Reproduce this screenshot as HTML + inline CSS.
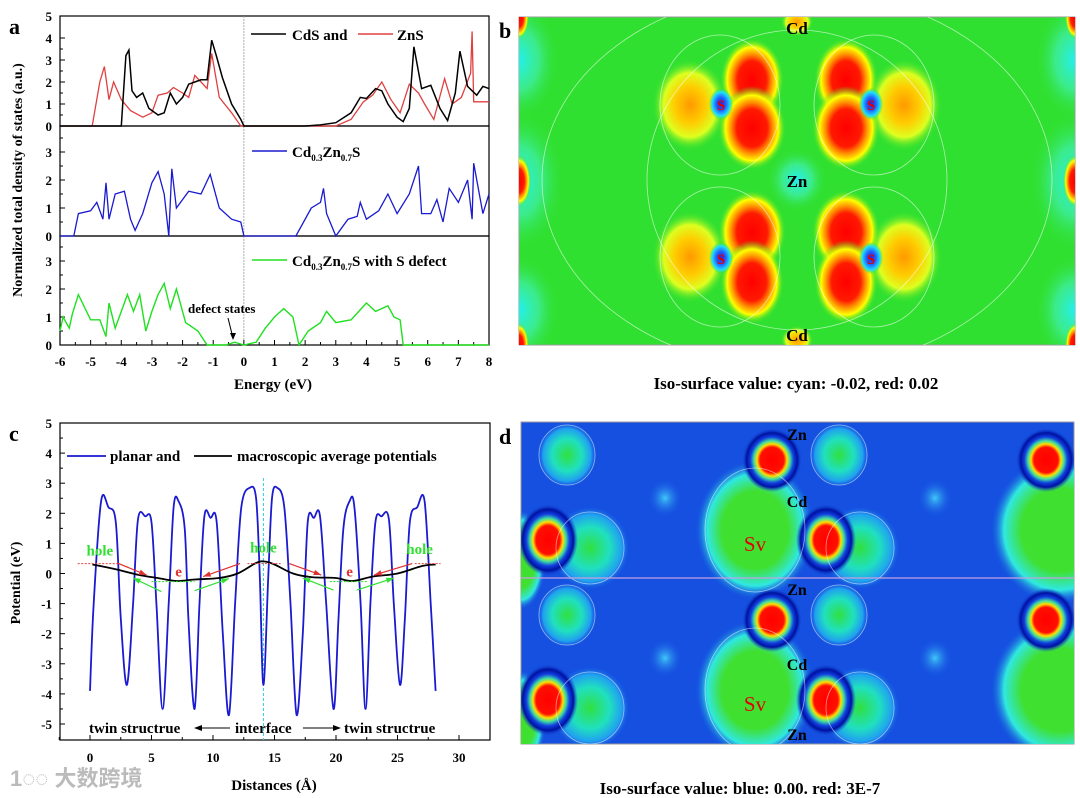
<!DOCTYPE html>
<html><head><meta charset="utf-8"><style>
html,body{margin:0;padding:0;background:#fff;}
svg{display:block;font-family:"Liberation Serif",serif;font-weight:bold;}
</style></head><body>
<svg id="fig" width="1080" height="798" viewBox="0 0 1080 798" xmlns="http://www.w3.org/2000/svg">
<defs>
<radialGradient id="gRed"><stop offset="0" stop-color="#ff0000"/><stop offset="0.45" stop-color="#ff1a00"/><stop offset="0.6" stop-color="#ff8800"/><stop offset="0.78" stop-color="#ffff00"/><stop offset="1" stop-color="#30e030" stop-opacity="0"/></radialGradient>
<radialGradient id="gOr"><stop offset="0" stop-color="#ff9900"/><stop offset="0.4" stop-color="#ffcc00"/><stop offset="0.7" stop-color="#ddff20"/><stop offset="1" stop-color="#30e030" stop-opacity="0"/></radialGradient>
<radialGradient id="gCy"><stop offset="0" stop-color="#20f0f0"/><stop offset="0.5" stop-color="#40f0b0" stop-opacity="0.7"/><stop offset="1" stop-color="#30e030" stop-opacity="0"/></radialGradient>
<radialGradient id="gS"><stop offset="0" stop-color="#3020d0"/><stop offset="0.4" stop-color="#2060ff"/><stop offset="0.75" stop-color="#20e0ff"/><stop offset="1" stop-color="#30e030" stop-opacity="0"/></radialGradient>
<radialGradient id="dRed"><stop offset="0" stop-color="#ff0000"/><stop offset="0.4" stop-color="#ff1000"/><stop offset="0.5" stop-color="#ffdd00"/><stop offset="0.6" stop-color="#40e0a0"/><stop offset="0.72" stop-color="#1040e0"/><stop offset="0.85" stop-color="#0010a0"/><stop offset="1" stop-color="#1550e0" stop-opacity="0"/></radialGradient>
<radialGradient id="dGr"><stop offset="0" stop-color="#30e040"/><stop offset="0.5" stop-color="#20e0c0"/><stop offset="0.8" stop-color="#20a0f0"/><stop offset="1" stop-color="#1550e0" stop-opacity="0"/></radialGradient>
<radialGradient id="dBig"><stop offset="0" stop-color="#40e030"/><stop offset="0.55" stop-color="#40e030"/><stop offset="0.8" stop-color="#30e8e0"/><stop offset="1" stop-color="#1550e0" stop-opacity="0"/></radialGradient>
<radialGradient id="dCy"><stop offset="0" stop-color="#40c8f8"/><stop offset="1" stop-color="#1550e0" stop-opacity="0"/></radialGradient>
</defs>

<g>
<rect x="519" y="17" width="556" height="328" fill="#30e030" stroke="#999" stroke-width="1"/>
<svg x="519" y="17" width="556" height="328" viewBox="519 17 556 328">
<ellipse cx="519" cy="60" rx="40" ry="60" fill="url(#gCy)"/>
<ellipse cx="519" cy="181" rx="45" ry="70" fill="url(#gCy)"/>
<ellipse cx="519" cy="310" rx="40" ry="55" fill="url(#gCy)"/>
<ellipse cx="1075" cy="60" rx="40" ry="60" fill="url(#gCy)"/>
<ellipse cx="1075" cy="181" rx="45" ry="70" fill="url(#gCy)"/>
<ellipse cx="1075" cy="310" rx="40" ry="55" fill="url(#gCy)"/>
<ellipse cx="797" cy="180" rx="30" ry="32" fill="url(#gCy)"/>
<ellipse cx="519" cy="181" rx="12" ry="26" fill="url(#gRed)"/>
<ellipse cx="1075" cy="181" rx="12" ry="26" fill="url(#gRed)"/>
<ellipse cx="519" cy="17" rx="10" ry="22" fill="url(#gRed)"/>
<ellipse cx="1075" cy="17" rx="10" ry="22" fill="url(#gRed)"/>
<ellipse cx="519" cy="345" rx="10" ry="22" fill="url(#gRed)"/>
<ellipse cx="1075" cy="345" rx="10" ry="22" fill="url(#gRed)"/>
<ellipse cx="797" cy="22" rx="16" ry="14" fill="url(#gOr)"/>
<ellipse cx="797" cy="340" rx="16" ry="14" fill="url(#gOr)"/>
<g>
<ellipse cx="690" cy="105" rx="38" ry="46" fill="url(#gOr)"/>
<ellipse cx="904" cy="105" rx="38" ry="46" fill="url(#gOr)"/>
<ellipse cx="690" cy="257" rx="38" ry="46" fill="url(#gOr)"/>
<ellipse cx="904" cy="257" rx="38" ry="46" fill="url(#gOr)"/>
<ellipse cx="752" cy="80" rx="32" ry="42" fill="url(#gRed)"/>
<ellipse cx="752" cy="128" rx="34" ry="42" fill="url(#gRed)"/>
<ellipse cx="846" cy="80" rx="32" ry="42" fill="url(#gRed)"/>
<ellipse cx="846" cy="128" rx="34" ry="42" fill="url(#gRed)"/>
<ellipse cx="752" cy="232" rx="34" ry="42" fill="url(#gRed)"/>
<ellipse cx="752" cy="282" rx="32" ry="42" fill="url(#gRed)"/>
<ellipse cx="846" cy="232" rx="34" ry="42" fill="url(#gRed)"/>
<ellipse cx="846" cy="282" rx="32" ry="42" fill="url(#gRed)"/>
<ellipse cx="721" cy="104" rx="12" ry="16" fill="url(#gS)"/>
<ellipse cx="871" cy="104" rx="12" ry="16" fill="url(#gS)"/>
<ellipse cx="721" cy="258" rx="12" ry="16" fill="url(#gS)"/>
<ellipse cx="871" cy="258" rx="12" ry="16" fill="url(#gS)"/>
</g>
<g fill="none" stroke="#ffffff" stroke-opacity="0.6" stroke-width="0.8">
<ellipse cx="797" cy="180" rx="150" ry="150"/>
<ellipse cx="720" cy="105" rx="60" ry="70"/>
<ellipse cx="874" cy="105" rx="60" ry="70"/>
<ellipse cx="720" cy="257" rx="60" ry="70"/>
<ellipse cx="874" cy="257" rx="60" ry="70"/>
<ellipse cx="797" cy="180" rx="255" ry="190"/>
</g>
</svg>
<text x="797" y="34" font-size="17" text-anchor="middle" fill="#000">Cd</text>
<text x="797" y="187" font-size="17" text-anchor="middle" fill="#000">Zn</text>
<text x="797" y="341" font-size="17" text-anchor="middle" fill="#000">Cd</text>
<text x="721" y="110" font-size="15" text-anchor="middle" fill="#e00000">S</text>
<text x="871" y="110" font-size="15" text-anchor="middle" fill="#e00000">S</text>
<text x="721" y="264" font-size="15" text-anchor="middle" fill="#e00000">S</text>
<text x="871" y="264" font-size="15" text-anchor="middle" fill="#e00000">S</text>
<text x="499" y="38" font-size="22" fill="#000">b</text>
<text x="796" y="389" font-size="17" text-anchor="middle" fill="#000">Iso-surface value: cyan: -0.02, red: 0.02</text>
</g>

<g>
<rect x="521" y="422" width="553" height="322" fill="#1550e0" stroke="#999" stroke-width="1"/>
<svg x="521" y="422" width="553" height="322" viewBox="521 422 553 322">
<ellipse cx="755" cy="530" rx="60" ry="70" fill="url(#dBig)"/>
<ellipse cx="755" cy="690" rx="60" ry="70" fill="url(#dBig)"/>
<ellipse cx="1060" cy="530" rx="70" ry="75" fill="url(#dBig)"/>
<ellipse cx="1060" cy="690" rx="70" ry="75" fill="url(#dBig)"/>
<ellipse cx="521" cy="560" rx="25" ry="50" fill="url(#dBig)"/>
<ellipse cx="521" cy="720" rx="25" ry="50" fill="url(#dBig)"/>
<ellipse cx="590" cy="548" rx="40" ry="42" fill="url(#dGr)"/>
<ellipse cx="860" cy="548" rx="40" ry="42" fill="url(#dGr)"/>
<ellipse cx="590" cy="708" rx="40" ry="42" fill="url(#dGr)"/>
<ellipse cx="860" cy="708" rx="40" ry="42" fill="url(#dGr)"/>
<ellipse cx="567" cy="455" rx="30" ry="33" fill="url(#dGr)"/>
<ellipse cx="839" cy="455" rx="30" ry="33" fill="url(#dGr)"/>
<ellipse cx="567" cy="615" rx="30" ry="33" fill="url(#dGr)"/>
<ellipse cx="839" cy="615" rx="30" ry="33" fill="url(#dGr)"/>
<ellipse cx="665" cy="498" rx="18" ry="20" fill="url(#dCy)"/>
<ellipse cx="665" cy="658" rx="18" ry="20" fill="url(#dCy)"/>
<ellipse cx="935" cy="498" rx="18" ry="20" fill="url(#dCy)"/>
<ellipse cx="935" cy="658" rx="18" ry="20" fill="url(#dCy)"/>
<ellipse cx="772" cy="460" rx="30" ry="32" fill="url(#dRed)"/>
<ellipse cx="1046" cy="460" rx="30" ry="32" fill="url(#dRed)"/>
<ellipse cx="548" cy="540" rx="30" ry="36" fill="url(#dRed)"/>
<ellipse cx="826" cy="540" rx="30" ry="36" fill="url(#dRed)"/>
<ellipse cx="772" cy="620" rx="30" ry="32" fill="url(#dRed)"/>
<ellipse cx="1046" cy="620" rx="30" ry="32" fill="url(#dRed)"/>
<ellipse cx="548" cy="700" rx="30" ry="36" fill="url(#dRed)"/>
<ellipse cx="826" cy="700" rx="30" ry="36" fill="url(#dRed)"/>
<g fill="none" stroke="#ffffff" stroke-opacity="0.55" stroke-width="0.8">
<ellipse cx="567" cy="455" rx="28" ry="30"/><ellipse cx="839" cy="455" rx="28" ry="30"/>
<ellipse cx="567" cy="615" rx="28" ry="30"/><ellipse cx="839" cy="615" rx="28" ry="30"/>
<ellipse cx="755" cy="530" rx="50" ry="62"/><ellipse cx="755" cy="690" rx="50" ry="62"/>
<ellipse cx="590" cy="548" rx="34" ry="36"/><ellipse cx="860" cy="548" rx="34" ry="36"/>
<ellipse cx="590" cy="708" rx="34" ry="36"/><ellipse cx="860" cy="708" rx="34" ry="36"/>
</g>
<line x1="521" y1="578" x2="1074" y2="578" stroke="#c8a0e0" stroke-width="1.2"/>
</svg>
<text x="797" y="440" font-size="16" text-anchor="middle" fill="#000">Zn</text>
<text x="797" y="507" font-size="16" text-anchor="middle" fill="#000">Cd</text>
<text x="755" y="551" font-size="21" text-anchor="middle" fill="#e00000" font-weight="normal">Sv</text>
<text x="797" y="595" font-size="16" text-anchor="middle" fill="#000">Zn</text>
<text x="797" y="670" font-size="16" text-anchor="middle" fill="#000">Cd</text>
<text x="755" y="711" font-size="21" text-anchor="middle" fill="#e00000" font-weight="normal">Sv</text>
<text x="797" y="740" font-size="16" text-anchor="middle" fill="#000">Zn</text>
<text x="499" y="444" font-size="22" fill="#000">d</text>
<text x="740" y="794" font-size="17" text-anchor="middle" fill="#000">Iso-surface value: blue: 0.00. red: 3E-7</text>
</g>

<g id="pa"></g>
<g id="pc"></g>
<text x="10" y="786" font-size="22" fill="#bbbbbb" font-family="'Liberation Sans','Noto Sans CJK SC',sans-serif">1◌◌ 大数跨境</text>
</svg>
<script>
const cdsE=[-6,-4.0,-3.85,-3.75,-3.65,-3.5,-3.3,-3.1,-2.8,-2.6,-2.4,-2.2,-2.0,-1.8,-1.6,-1.4,-1.2,-1.05,-0.9,-0.7,-0.4,-0.1,0,2,2.5,3,3.5,3.8,4.0,4.3,4.5,4.7,5.0,5.2,5.4,5.55,5.8,6.1,6.4,6.65,6.9,7.05,7.3,7.6,7.8,8];
const cdsV=[0,0,3.2,3.45,1.6,1.3,1.5,0.8,0.5,0.6,1.5,1.0,1.3,1.9,2.0,2.1,2.1,3.9,3.2,2.2,1.0,0.3,0,0,0.05,0.15,0.6,1.3,1.25,1.7,1.6,1.0,0.4,0.2,0.8,3.6,1.7,1.85,0.8,0.25,1.5,3.4,1.8,1.4,1.8,1.7];
const znsE=[-6,-4.95,-4.7,-4.55,-4.4,-4.25,-4.0,-3.7,-3.3,-3.0,-2.8,-2.5,-2.3,-2.0,-1.8,-1.6,-1.4,-1.2,-1.05,-0.8,-0.4,-0.1,0,3.0,3.5,3.9,4.2,4.5,4.8,5.1,5.4,5.7,5.9,6.2,6.55,6.8,7.1,7.4,7.45,7.5,8];
const znsV=[0,0,2.0,2.7,1.2,2.0,1.2,0.7,0.4,0.6,1.4,1.5,1.75,1.5,1.3,2.3,2.0,1.7,3.3,1.3,0.6,0,0,0,0.3,1.1,1.4,2.0,1.2,0.6,1.9,1.5,1.0,0.3,2.15,1.0,1.3,2.4,4.3,1.1,1.1];
const mixE=[-6,-5.55,-5.4,-5.0,-4.8,-4.6,-4.5,-4.4,-4.2,-3.9,-3.7,-3.55,-3.3,-3.0,-2.8,-2.6,-2.45,-2.35,-2.2,-1.8,-1.4,-1.1,-0.8,-0.4,-0.1,0,1.7,2.2,2.5,2.6,2.7,3.0,3.4,3.7,3.8,4.0,4.4,4.7,5.0,5.4,5.7,5.8,6.1,6.3,6.5,6.7,7.0,7.3,7.45,7.5,7.8,8.0];
const mixV=[0,0,0.8,0.9,1.2,0.6,1.9,0.6,1.5,1.6,0.6,0.2,0.8,1.9,2.3,1.5,0,2.4,1.0,1.6,1.5,2.2,1.0,0.6,0.5,0,0,1.0,1.2,1.7,0.8,0,0.6,0.7,1.2,0.6,0.9,1.5,0.8,1.5,2.5,0.8,0.8,1.3,0.5,1.7,1.2,2.0,0.6,2.6,0.8,1.5];
const defE=[-6,-5.9,-5.7,-5.6,-5.4,-5.0,-4.7,-4.5,-4.4,-4.2,-3.8,-3.6,-3.4,-3.2,-3.0,-2.8,-2.6,-2.4,-2.2,-1.9,-1.5,-1.2,-0.6,-0.3,0,0.4,0.7,1.0,1.3,1.6,1.8,2.1,2.5,2.7,3.0,3.5,4.0,4.3,4.7,4.9,5.1,5.2,8];
const defV=[0.5,1.0,0.6,1.1,1.8,0.9,0.9,0.3,1.5,0.6,1.8,1.2,1.8,0.5,1.2,1.8,2.2,1.3,2.0,0.8,0.5,0,0,0.1,0,0.1,0.6,1.0,1.3,1.0,0,0.5,0.8,1.2,0.8,0.9,1.5,1.2,1.4,1.0,0.9,0,0];
const xTicksA=[-6,-5,-4,-3,-2,-1,0,1,2,3,4,5,6,7,8];
const potX=[0,0.3,0.9,1.5,2.1,2.5,3.0,3.5,3.9,4.5,5.0,5.4,5.9,6.4,6.8,7.2,7.7,8.0,8.5,8.9,9.3,9.8,10.3,10.8,11.3,11.8,12.3,13.0,13.5,13.8,14.1,14.5,14.8,15.2,15.8,16.3,16.8,17.3,17.7,18.2,18.7,19.2,19.8,20.2,20.6,21.1,21.5,22.0,22.4,22.8,23.2,23.7,24.3,24.7,25.2,25.6,26.0,26.6,27.2,27.7,28.1];
const potV=[-3.9,-1,2.4,2.2,1.7,-1.5,-3.7,-1,1.8,1.9,1.7,-1,-4.5,-1,2.2,2.4,1.5,-1.5,-4.5,-1,1.9,1.85,1.7,-2,-4.7,-1,2.2,2.85,2.5,0,-3.7,0,2.5,2.85,2.2,-1,-4.7,-2,1.7,1.85,1.9,-1,-4.5,-1.5,1.5,2.4,2.2,-1,-4.5,-1,1.7,1.9,1.8,-1,-3.7,-1.5,1.7,2.2,2.4,-1,-3.9];
const macX=[0.2,2,4,5.5,7,8.5,10.5,12,13.5,14.2,15,16.5,18,20,21.3,23,25,27,28.1];
const macV=[0.3,0.15,-0.05,-0.15,-0.25,-0.2,-0.15,0,0.35,0.4,0.3,0,-0.12,-0.15,-0.25,-0.1,0,0.25,0.3];
const xTicksC=[0,5,10,15,20,25,30];
const yTicksC=[5,4,3,2,1,0,-1,-2,-3,-4,-5];

const NS='http://www.w3.org/2000/svg';
function mk(parent,tag,attrs,text){const e=document.createElementNS(NS,tag);for(const k in attrs)e.setAttribute(k,attrs[k]);if(text!==undefined)e.textContent=text;parent.appendChild(e);return e;}
function lineD(xs,ys,fx,fy){return xs.map((x,i)=>(i?'L':'M')+fx(x).toFixed(1)+','+fy(ys[i]).toFixed(1)).join('');}
function smoothD(xs,ys,fx,fy){const p=xs.map((x,i)=>[fx(x),fy(ys[i])]);let d='M'+p[0][0]+','+p[0][1];for(let i=0;i<p.length-1;i++){const p0=p[i-1]||p[i],p1=p[i],p2=p[i+1],p3=p[i+2]||p2;d+='C'+(p1[0]+(p2[0]-p0[0])/6).toFixed(1)+','+(p1[1]+(p2[1]-p0[1])/6).toFixed(1)+' '+(p2[0]-(p3[0]-p1[0])/6).toFixed(1)+','+(p2[1]-(p3[1]-p1[1])/6).toFixed(1)+' '+p2[0].toFixed(1)+','+p2[1].toFixed(1);}return d;}

const A=document.getElementById('pa');
const ax=e=>60+(e+6)*(429/14);
const panels=[{top:16,bot:126,s:22,ticks:[0,1,2,3,4,5]},{top:126,bot:236,s:28,ticks:[0,1,2,3]},{top:236,bot:345,s:28,ticks:[0,1,2,3]}];
panels.forEach((p,pi)=>{
  const fy=v=>p.bot-v*p.s;
  const fr=mk(A,'rect',{x:60,y:p.top,width:429,height:p.bot-p.top,fill:'none',stroke:'#000','stroke-width':1.2});
  
  
  p.ticks.forEach(t=>{
    const y=fy(t); if(y<p.top-0.5)return;
    mk(A,'line',{x1:60,y1:y,x2:65,y2:y,stroke:'#000'});
    const tl=mk(A,'text',{x:52,y:y+5,'font-size':13,'text-anchor':'end'},String(t));
    
    
    if(t<3.9 && fy(t+0.5)>p.top)mk(A,'line',{x1:60,y1:fy(t+0.5),x2:63,y2:fy(t+0.5),stroke:'#000'});
  });
  mk(A,'line',{x1:ax(0),y1:p.top,x2:ax(0),y2:p.bot,stroke:'#999','stroke-width':0.8,'stroke-dasharray':'2,1'});
});
xTicksA.forEach(t=>{
  mk(A,'line',{x1:ax(t),y1:345,x2:ax(t),y2:340,stroke:'#000'});
  if(t<8)mk(A,'line',{x1:ax(t+0.5),y1:345,x2:ax(t+0.5),y2:342,stroke:'#000'});
  const tl=mk(A,'text',{x:ax(t),y:366,'font-size':13,'text-anchor':'middle'},String(t));
  
  
});
const f1=v=>126-v*22, f2=v=>236-v*28, f3=v=>345-v*28;
let s=mk(A,'path',{d:lineD(znsE,znsV,ax,f1),fill:'none',stroke:'#e04040','stroke-width':1.3});


s=mk(A,'path',{d:lineD(cdsE,cdsV,ax,f1),fill:'none',stroke:'#000','stroke-width':1.5});


s=mk(A,'path',{d:lineD(mixE,mixV,ax,f2),fill:'none',stroke:'#1a1ad0','stroke-width':1.3});


s=mk(A,'path',{d:lineD(defE,defV,ax,f3),fill:'none',stroke:'#20e020','stroke-width':1.4});


mk(A,'line',{x1:251,y1:34,x2:286,y2:34,stroke:'#000','stroke-width':1.5});
let t=mk(A,'text',{x:292,y:40,'font-size':15},'CdS and');


mk(A,'line',{x1:358,y1:34,x2:393,y2:34,stroke:'#e04040','stroke-width':1.5});
t=mk(A,'text',{x:397,y:40,'font-size':15},'ZnS');


mk(A,'line',{x1:252,y1:151,x2:287,y2:151,stroke:'#1a1ad0','stroke-width':1.5});
t=mk(A,'text',{x:292,y:157,'font-size':15});
t.innerHTML='Cd<tspan font-size="9" dy="4">0.3</tspan><tspan dy="-4">Zn</tspan><tspan font-size="9" dy="4">0.7</tspan><tspan dy="-4">S</tspan>';


mk(A,'line',{x1:252,y1:260,x2:287,y2:260,stroke:'#20e020','stroke-width':1.5});
t=mk(A,'text',{x:292,y:266,'font-size':15});
t.innerHTML='Cd<tspan font-size="9" dy="4">0.3</tspan><tspan dy="-4">Zn</tspan><tspan font-size="9" dy="4">0.7</tspan><tspan dy="-4">S with S defect</tspan>';


t=mk(A,'text',{x:188,y:313,'font-size':13},'defect states');


mk(A,'line',{x1:228,y1:318,x2:233,y2:338,stroke:'#000','stroke-width':1});
mk(A,'path',{d:'M230,333 L233,340 L236,333 Z',fill:'#000'});
t=mk(A,'text',{x:273,y:389,'font-size':15,'text-anchor':'middle'},'Energy (eV)');


t=mk(A,'text',{x:0,y:0,'font-size':14,'text-anchor':'middle',transform:'translate(22,180) rotate(-90)'},'Normalized total density of states (a.u.)');


t=mk(A,'text',{x:9,y:34,'font-size':22},'a');



const C=document.getElementById('pc');
const cx=d=>90+d*12.3, cy=v=>573.5-v*30.1;
let fr=mk(C,'rect',{x:60,y:423,width:430,height:317,fill:'none',stroke:'#000','stroke-width':1.2});


yTicksC.forEach(v=>{
  mk(C,'line',{x1:60,y1:cy(v),x2:65,y2:cy(v),stroke:'#000'});
  if(v>-5)mk(C,'line',{x1:60,y1:cy(v-0.5),x2:63,y2:cy(v-0.5),stroke:'#000'});
  const tl=mk(C,'text',{x:52,y:cy(v)+5,'font-size':13,'text-anchor':'end'},String(v));
  
  
});
xTicksC.forEach(v=>{
  mk(C,'line',{x1:cx(v),y1:740,x2:cx(v),y2:735,stroke:'#000'});
  mk(C,'line',{x1:cx(v-2.5),y1:740,x2:cx(v-2.5),y2:737,stroke:'#000'});
  const tl=mk(C,'text',{x:cx(v),y:762,'font-size':13,'text-anchor':'middle'},String(v));
  
  
});
mk(C,'line',{x1:cx(14.1),y1:478,x2:cx(14.1),y2:740,stroke:'#30d0e0','stroke-width':1,'stroke-dasharray':'3,2'});
s=mk(C,'path',{d:smoothD(potX,potV,cx,cy),fill:'none',stroke:'#1a1ad0','stroke-width':1.8});


s=mk(C,'path',{d:smoothD(macX,macV,cx,cy),fill:'none',stroke:'#000','stroke-width':1.8});


[[-1,2.3],[12.8,15.5],[26.4,28.5]].forEach(r=>mk(C,'line',{x1:cx(r[0]),y1:cy(0.33),x2:cx(r[1]),y2:cy(0.33),stroke:'#e04040','stroke-dasharray':'2,1.5'}));
[[5,8.5],[19.5,22.5]].forEach(r=>mk(C,'line',{x1:cx(r[0]),y1:cy(-0.27),x2:cx(r[1]),y2:cy(-0.27),stroke:'#20e020','stroke-dasharray':'2,1.5'}));
function arrow(x1,y1,x2,y2,col){mk(C,'line',{x1:cx(x1),y1:cy(y1),x2:cx(x2),y2:cy(y2),stroke:col,'stroke-width':1.2});const a=Math.atan2(cy(y2)-cy(y1),cx(x2)-cx(x1));const X=cx(x2),Y=cy(y2);mk(C,'path',{d:`M${X},${Y}L${X-8*Math.cos(a-0.35)},${Y-8*Math.sin(a-0.35)}L${X-8*Math.cos(a+0.35)},${Y-8*Math.sin(a+0.35)}Z`,fill:col});}
arrow(2.2,0.35,4.6,-0.05,'#e03030');arrow(12.2,0.33,9.2,-0.1,'#e03030');arrow(16.2,0.33,18.8,-0.05,'#e03030');arrow(26.2,0.33,23.1,-0.05,'#e03030');
arrow(5.8,-0.6,3.5,-0.15,'#30e030');arrow(8.5,-0.57,11.3,-0.17,'#30e030');arrow(19.8,-0.55,17.3,-0.15,'#30e030');arrow(21.7,-0.55,24.7,-0.15,'#30e030');
[[0.8,0.6],[14.1,0.7],[26.8,0.65]].forEach(p=>{const h=mk(C,'text',{x:cx(p[0]),y:cy(p[1]),'font-size':15,'text-anchor':'middle',fill:'#30e030'},'hole');});
[[7.2],[21.1]].forEach(p=>{const h=mk(C,'text',{x:cx(p[0]),y:cy(-0.1),'font-size':15,'text-anchor':'middle',fill:'#e03030'},'e');});
mk(C,'line',{x1:67,y1:456,x2:106,y2:456,stroke:'#1a1ad0','stroke-width':1.8});
t=mk(C,'text',{x:110,y:461,'font-size':15},'planar and');


mk(C,'line',{x1:194,y1:456,x2:232,y2:456,stroke:'#000','stroke-width':1.8});
t=mk(C,'text',{x:237,y:461,'font-size':15},'macroscopic average potentials');


t=mk(C,'text',{x:89,y:733,'font-size':15},'twin structrue');


mk(C,'line',{x1:200,y1:728,x2:230,y2:728,stroke:'#000'});mk(C,'path',{d:'M194,728 L202,725 L202,731 Z',fill:'#000'});
t=mk(C,'text',{x:235,y:733,'font-size':15},'interface');


mk(C,'line',{x1:303,y1:728,x2:335,y2:728,stroke:'#000'});mk(C,'path',{d:'M341,728 L333,725 L333,731 Z',fill:'#000'});
t=mk(C,'text',{x:344,y:733,'font-size':15},'twin structrue');


t=mk(C,'text',{x:274,y:790,'font-size':15,'text-anchor':'middle'},'Distances (Å)');


t=mk(C,'text',{x:0,y:0,'font-size':14,'text-anchor':'middle',transform:'translate(20,583) rotate(-90)'},'Potential (eV)');


t=mk(C,'text',{x:9,y:441,'font-size':22},'c');


</script>
</body></html>
